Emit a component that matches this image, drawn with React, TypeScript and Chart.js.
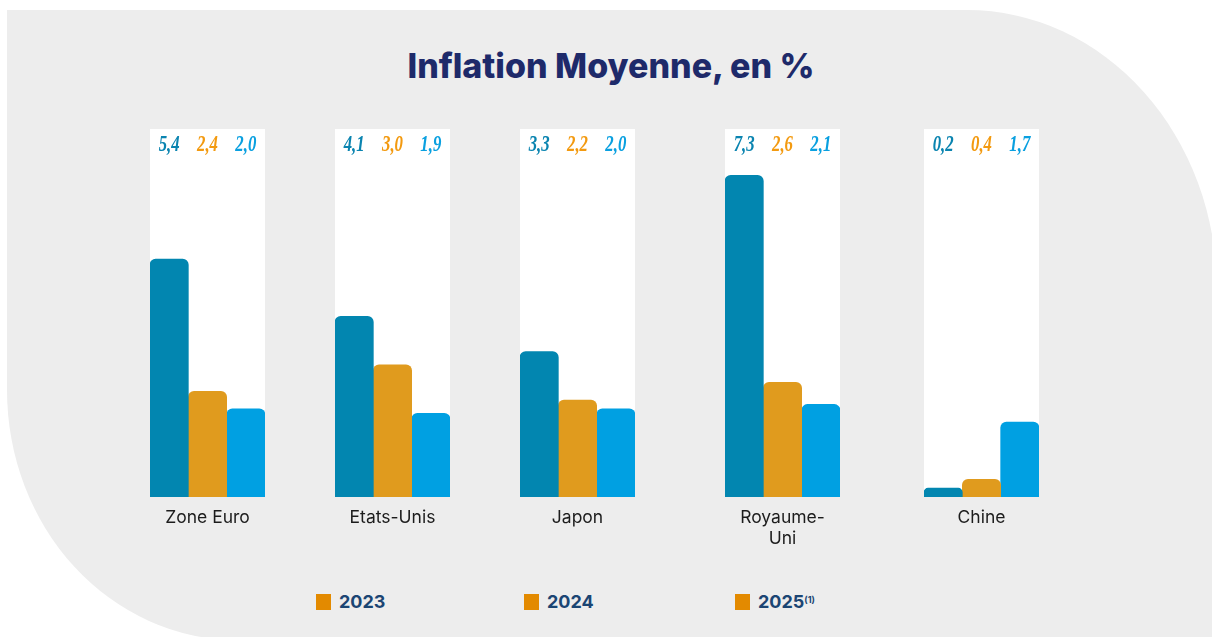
import React, { useEffect, useRef } from "react";
import { Chart, registerables } from "chart.js";

Chart.register(...registerables);

// ---------- data ----------
const CATEGORIES: string[][] = [["Zone Euro"], ["Etats-Unis"], ["Japon"], ["Royaume-", "Uni"], ["Chine"]];
const SERIES_2023 = [5.4, 4.1, 3.3, 7.3, 0.2];
const SERIES_2024 = [2.4, 3.0, 2.2, 2.6, 0.4];
const SERIES_2025 = [2.0, 1.9, 2.0, 2.1, 1.7];
const SERIES_LABELS = ["2023", "2024", "2025"];
const Y_MAX = 8.35;

// ---------- layout / style ----------
const PANEL_LEFTS = [150, 335, 520, 725, 924];
const PANEL_WIDTH = 115;
const PANEL_TOP = 129;
const PLOT_HEIGHT = 368;
const AXIS_HEIGHT = 60;
const BAR_COLORS = ["#0286b0", "#e09b1e", "#00a0e2"];
const LABEL_COLORS = ["#0a84b0", "#f39a10", "#0aa0e0"];
const LEGEND_LEFTS = [316, 524, 735];

const fmt = (v: number) => v.toFixed(1).replace(".", ",");

const panelPlugin = {
  id: "panelBg",
  beforeDraw(chart: any) {
    const { ctx, chartArea } = chart;
    ctx.save();
    ctx.fillStyle = "#ffffff";
    ctx.fillRect(chartArea.left, chartArea.top, chartArea.right - chartArea.left, chartArea.bottom - chartArea.top);
    ctx.restore();
  },
};

const valueLabelPlugin = {
  id: "valueLabels",
  afterDatasetsDraw(chart: any) {
    const { ctx, chartArea } = chart;
    chart.data.datasets.forEach((ds: any, di: number) => {
      const meta = chart.getDatasetMeta(di);
      meta.data.forEach((bar: any, i: number) => {
        ctx.save();
        ctx.translate(bar.x, chartArea.top + 16);
        ctx.scale(0.8, 1.05);
        ctx.font = "italic bold 21px 'Liberation Serif'";
        ctx.fillStyle = LABEL_COLORS[di];
        ctx.textAlign = "center";
        ctx.textBaseline = "middle";
        ctx.fillText(fmt(ds.data[i]), 0, 0);
        ctx.restore();
      });
    });
  },
};

function GroupChart({ index }: { index: number }) {
  const ref = useRef<HTMLCanvasElement | null>(null);
  useEffect(() => {
    if (!ref.current) return;
    const series = [SERIES_2023, SERIES_2024, SERIES_2025];
    const chart = new Chart(ref.current, {
      type: "bar",
      data: {
        labels: [CATEGORIES[index]],
        datasets: series.map((s, k) => ({
          label: SERIES_LABELS[k],
          data: [s[index]],
          backgroundColor: BAR_COLORS[k],
          borderRadius: { topLeft: 6, topRight: 6, bottomLeft: 0, bottomRight: 0 },
          borderSkipped: false,
          categoryPercentage: 1,
          barPercentage: 1,
        })),
      },
      options: {
        animation: false,
        responsive: true,
        maintainAspectRatio: false,
        layout: { padding: 0 },
        plugins: { legend: { display: false }, tooltip: { enabled: false } },
        scales: {
          x: {
            grid: { display: false, drawTicks: false },
            border: { display: false },
            ticks: {
              padding: 10,
              color: "#1c1c1c",
              font: { family: "Inter", size: 17.5, lineHeight: 1.2 },
            },
            afterFit: (s: any) => {
              s.height = AXIS_HEIGHT;
            },
          },
          y: { display: false, min: 0, max: Y_MAX },
        },
      },
      plugins: [panelPlugin, valueLabelPlugin],
    });
    return () => chart.destroy();
  }, [index]);
  return (
    <div
      style={{
        position: "absolute",
        left: PANEL_LEFTS[index],
        top: PANEL_TOP,
        width: PANEL_WIDTH,
        height: PLOT_HEIGHT + AXIS_HEIGHT,
      }}
    >
      <canvas ref={ref} />
    </div>
  );
}

export default function App() {
  return (
    <div
      style={{
        position: "fixed",
        left: 0,
        top: 0,
        width: 1212,
        height: 637,
        overflow: "hidden",
        background: "#ffffff",
        fontFamily: "Inter, 'Noto Sans', sans-serif",
      }}
    >
      <div
        style={{
          position: "absolute",
          left: 7,
          top: 10,
          width: 1210,
          height: 630,
          background: "#ededed",
          borderRadius: "0 250px 0 230px / 0 280px 0 250px",
        }}
      />
      <div
        style={{
          position: "absolute",
          left: 0,
          width: 1222,
          top: 46,
          textAlign: "center",
          fontSize: 34,
          fontWeight: 800,
          lineHeight: "40px",
          color: "#1e2a6a",
          letterSpacing: 0,
        }}
      >
        Inflation Moyenne, en %
      </div>
      {CATEGORIES.map((_, i) => (
        <GroupChart key={i} index={i} />
      ))}
      {SERIES_LABELS.map((lab, k) => (
        <div
          key={lab}
          style={{
            position: "absolute",
            left: LEGEND_LEFTS[k],
            top: 593,
            display: "flex",
            alignItems: "center",
            height: 18,
          }}
        >
          <div style={{ width: 15, height: 16, background: "#e38a00", marginRight: 8 }} />
          <span style={{ fontSize: 18, fontWeight: 700, color: "#1b4573", lineHeight: "18px" }}>
            {lab}
            {k === 2 ? (
              <sup style={{ fontSize: 9, fontWeight: 700, verticalAlign: "top", position: "relative", top: -2 }}>(1)</sup>
            ) : null}
          </span>
        </div>
      ))}
    </div>
  );
}
